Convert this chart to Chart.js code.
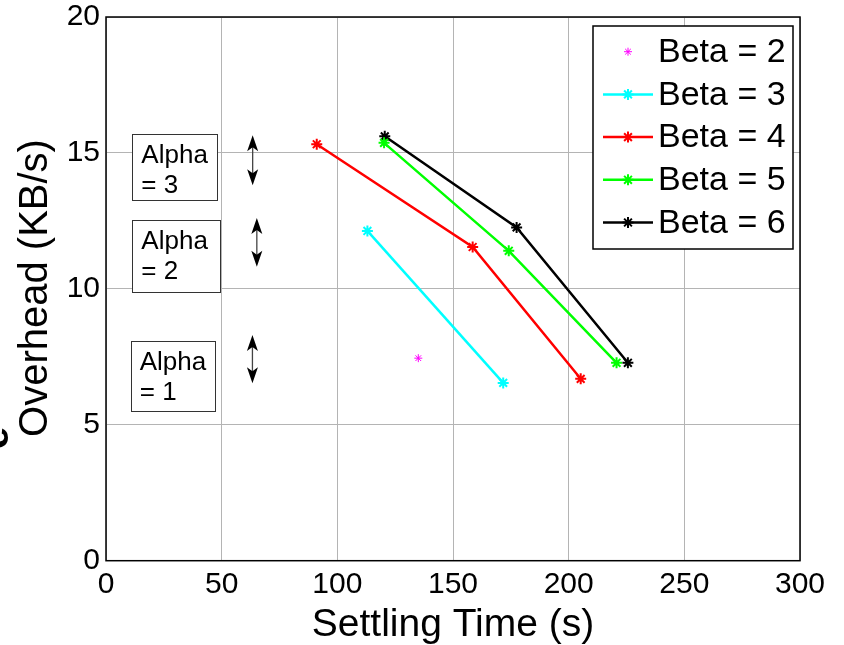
<!DOCTYPE html>
<html>
<head>
<meta charset="utf-8">
<script src="https://cdn.jsdelivr.net/npm/chart.js@4/dist/chart.umd.min.js"></script>
<style>
  html, body { margin: 0; padding: 0; background: #fff; }
  #wrap { width: 844px; height: 645px; }
</style>
</head>
<body>
<div id="wrap"><canvas id="c" width="844" height="645"></canvas></div>
<script>
// ---- data ----
const seriesLabels = ['Beta = 2', 'Beta = 3', 'Beta = 4', 'Beta = 5', 'Beta = 6'];
const seriesColors = ['#ff00ff', '#00ffff', '#ff0000', '#00ff00', '#000000'];
const beta2X = [135.0];
const beta2Y = [7.45];
const beta3X = [113.0, 171.7];
const beta3Y = [12.13, 6.54];
const beta4X = [91.1, 158.5, 205.2];
const beta4Y = [15.32, 11.54, 6.69];
const beta5X = [120.2, 174.1, 220.7];
const beta5Y = [15.37, 11.40, 7.28];
const beta6X = [120.5, 177.5, 225.6];
const beta6Y = [15.61, 12.26, 7.28];
const xTicks = [0, 50, 100, 150, 200, 250, 300];
const yTicks = [0, 5, 10, 15, 20];
const xTitle = 'Settling Time (s)';
const yTitle = 'Overhead (KB/s)';
const alphaLabels = [['Alpha', '= 3'], ['Alpha', '= 2'], ['Alpha', '= 1']];
// annotation boxes in data coords: [x0, x1, yTop, yBottom]
const alphaBoxes = [[11.4, 48.3, 15.69, 13.26], [11.4, 49.3, 12.53, 9.87], [10.7, 47.1, 8.09, 5.51]];
// double arrows in data coords: [x, yTop, yBottom]
const alphaArrows = [[63.4, 15.65, 13.81], [65.2, 12.61, 10.81], [63.3, 8.30, 6.53]];

const seriesX = [beta2X, beta3X, beta4X, beta5X, beta6X];
const seriesY = [beta2Y, beta3Y, beta4Y, beta5Y, beta6Y];

const FONT = '"Liberation Sans", Arial, Helvetica, sans-serif';

const datasets = seriesLabels.map((lab, i) => ({
  label: lab,
  data: seriesX[i].map((x, j) => ({ x: x, y: seriesY[i][j] })),
  showLine: i !== 0,
  borderColor: seriesColors[i],
  backgroundColor: seriesColors[i],
  borderWidth: 2.5,
  pointStyle: 'star',
  pointRadius: i === 0 ? 4 : 5.5,
  pointBorderWidth: i === 0 ? 1 : 2,
  pointBorderColor: seriesColors[i],
  pointBackgroundColor: seriesColors[i]
}));

function drawStar(ctx, cx, cy, r, lw, col) {
  ctx.strokeStyle = col;
  ctx.lineWidth = lw;
  ctx.beginPath();
  for (let k = 0; k < 4; k++) {
    const ang = k * Math.PI / 4;
    ctx.moveTo(cx - r * Math.cos(ang), cy - r * Math.sin(ang));
    ctx.lineTo(cx + r * Math.cos(ang), cy + r * Math.sin(ang));
  }
  ctx.stroke();
}

const plugin = {
  id: 'decor',
  beforeDraw(chart) {
    const ctx = chart.ctx;
    ctx.save();
    ctx.fillStyle = '#fff';
    ctx.fillRect(0, 0, chart.width, chart.height);
    ctx.restore();
  },
  afterDatasetsDraw(chart) {
    const ctx = chart.ctx;
    const a = chart.chartArea;
    const xs = chart.scales.x, ys = chart.scales.y;
    ctx.save();
    // axes box
    ctx.strokeStyle = '#000';
    ctx.lineWidth = 1.5;
    ctx.strokeRect(a.left, a.top, a.right - a.left, a.bottom - a.top);

    // alpha boxes
    ctx.lineWidth = 1;
    ctx.font = '26px ' + FONT;
    ctx.textBaseline = 'alphabetic';
    ctx.textAlign = 'left';
    alphaBoxes.forEach((b, i) => {
      const x0 = xs.getPixelForValue(b[0]), x1 = xs.getPixelForValue(b[1]);
      const y0 = ys.getPixelForValue(b[2]), y1 = ys.getPixelForValue(b[3]);
      ctx.fillStyle = '#fff';
      ctx.fillRect(x0, y0, x1 - x0, y1 - y0);
      ctx.strokeStyle = '#333';
      ctx.strokeRect(Math.round(x0) + 0.5, Math.round(y0) + 0.5, Math.round(x1 - x0), Math.round(y1 - y0));
      ctx.fillStyle = '#000';
      ctx.fillText(alphaLabels[i][0], x0 + 9, y0 + 29);
      ctx.fillText(alphaLabels[i][1], x0 + 9, y0 + 59);
    });

    // double arrows
    alphaArrows.forEach(ar => {
      const x = xs.getPixelForValue(ar[0]);
      const yt = ys.getPixelForValue(ar[1]);
      const yb = ys.getPixelForValue(ar[2]);
      ctx.strokeStyle = '#444';
      ctx.lineWidth = 1.3;
      ctx.beginPath();
      ctx.moveTo(x, yt + 6);
      ctx.lineTo(x, yb - 6);
      ctx.stroke();
      ctx.fillStyle = '#000';
      ctx.beginPath();
      ctx.moveTo(x, yt);
      ctx.lineTo(x - 5.5, yt + 16);
      ctx.lineTo(x, yt + 12);
      ctx.lineTo(x + 5.5, yt + 16);
      ctx.closePath();
      ctx.fill();
      ctx.beginPath();
      ctx.moveTo(x, yb);
      ctx.lineTo(x - 5.5, yb - 16);
      ctx.lineTo(x, yb - 12);
      ctx.lineTo(x + 5.5, yb - 16);
      ctx.closePath();
      ctx.fill();
    });

    // legend
    const lx0 = 593, ly0 = 26, lx1 = 793, ly1 = 249;
    ctx.fillStyle = '#fff';
    ctx.fillRect(lx0, ly0, lx1 - lx0, ly1 - ly0);
    ctx.strokeStyle = '#000';
    ctx.lineWidth = 1.5;
    ctx.strokeRect(lx0, ly0, lx1 - lx0, ly1 - ly0);
    ctx.font = '34px ' + FONT;
    ctx.textBaseline = 'middle';
    seriesLabels.forEach((lab, i) => {
      const y = 51.7 + i * 42.7;
      const col = seriesColors[i];
      if (i !== 0) {
        ctx.strokeStyle = col;
        ctx.lineWidth = 2.5;
        ctx.beginPath();
        ctx.moveTo(603, y);
        ctx.lineTo(653, y);
        ctx.stroke();
      }
      drawStar(ctx, 628, y, i === 0 ? 4 : 5.5, i === 0 ? 1 : 2, col);
      ctx.fillStyle = '#000';
      ctx.textAlign = 'left';
      ctx.fillText(lab, 658, y + 1);
    });

    // axis titles
    ctx.fillStyle = '#000';
    ctx.font = '39px ' + FONT;
    ctx.textAlign = 'center';
    ctx.textBaseline = 'alphabetic';
    ctx.fillText(xTitle, (a.left + a.right) / 2, 636);

    ctx.save();
    ctx.font = '40px ' + FONT;
    ctx.translate(47, 288);
    ctx.rotate(-Math.PI / 2);
    ctx.textAlign = 'center';
    ctx.fillText(yTitle, 0, 0);
    ctx.restore();

    // clipped glyph at the left edge
    ctx.save();
    ctx.font = 'bold 40px ' + FONT;
    ctx.translate(8, 449);
    ctx.rotate(-Math.PI / 2);
    ctx.textAlign = 'left';
    ctx.fillText('e', 0, 0);
    ctx.restore();

    ctx.restore();
  }
};

Chart.defaults.font.family = FONT;
Chart.defaults.color = '#000';

new Chart(document.getElementById('c'), {
  type: 'scatter',
  data: { datasets: datasets },
  options: {
    responsive: false,
    animation: false,
    devicePixelRatio: 1,
    layout: { padding: { left: 0, right: 44, top: 17, bottom: 0 } },
    plugins: { legend: { display: false }, tooltip: { enabled: false } },
    scales: {
      x: {
        type: 'linear',
        min: 0, max: 300,
        afterBuildTicks: s => { s.ticks = xTicks.map(v => ({ value: v })); },
        afterFit: s => { s.height = 84.3; s.paddingLeft = 0; s.paddingRight = 0; },
        ticks: { font: { size: 30 }, color: '#000', padding: 6, maxRotation: 0, autoSkip: false },
        grid: { color: '#b4b4b4', lineWidth: 1, drawTicks: false },
        border: { display: false }
      },
      y: {
        type: 'linear',
        min: 0, max: 20,
        afterBuildTicks: s => { s.ticks = yTicks.map(v => ({ value: v })); },
        afterFit: s => { s.width = 106; s.paddingTop = 0; s.paddingBottom = 0; },
        ticks: { font: { size: 30 }, color: '#000', padding: 6, autoSkip: false },
        grid: { color: '#b4b4b4', lineWidth: 1, drawTicks: false },
        border: { display: false }
      }
    }
  },
  plugins: [plugin]
});
</script>
</body>
</html>
